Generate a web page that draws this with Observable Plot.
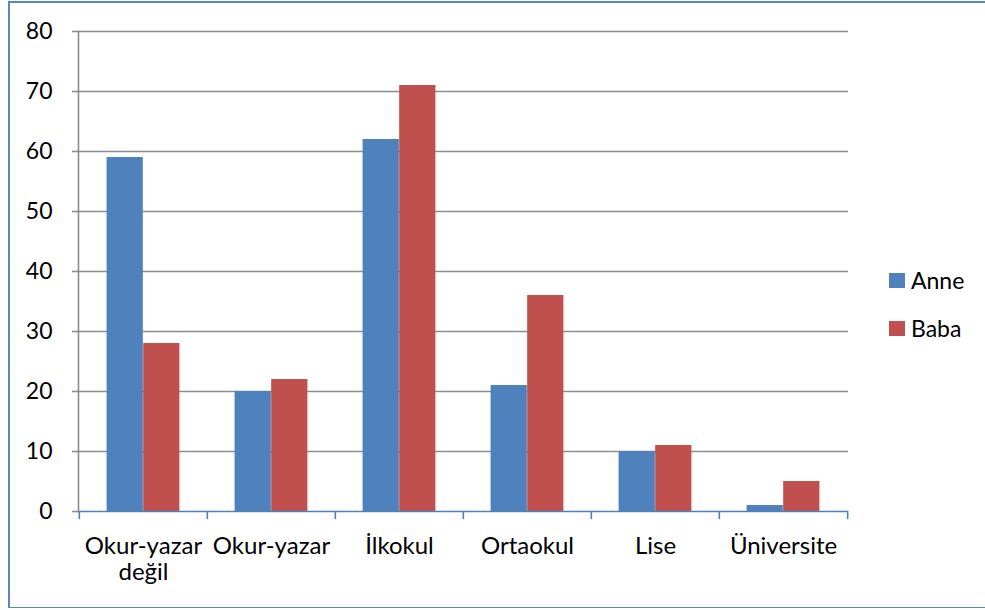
<!DOCTYPE html>
<html><head><meta charset="utf-8">
<script src="https://cdn.jsdelivr.net/npm/d3@7"></script>
<script src="https://cdn.jsdelivr.net/npm/@observablehq/plot@0.6"></script>
<style>
html,body{margin:0;padding:0;background:#fff;font-family:Lato,"Open Sans",sans-serif;overflow:hidden}
#wrap{position:relative;width:985px;height:610px;overflow:hidden;background:#fff}
.bl{position:absolute;background:#5b87c0;pointer-events:none}
#legend{position:absolute;left:889px;top:256px;font-size:23px;color:#000}
.item{display:flex;align-items:center;height:48px}
.sw{width:16px;height:15px;margin-right:6px}
</style>
</head><body>
<div id="wrap"><div id="chart"></div><div id="legend"></div>
<div class="bl" style="left:8px;top:1px;width:1.5px;height:607px"></div>
<div class="bl" style="left:8px;top:1px;width:977px;height:1.5px"></div>
<div class="bl" style="left:8px;top:606.5px;width:977px;height:1.5px"></div>
</div>
<script>
const categories = ["Okur-yazar değil","Okur-yazar","İlkokul","Ortaokul","Lise","Üniversite"];
const tickLabels = ["Okur-yazar\ndeğil","Okur-yazar","İlkokul","Ortaokul","Lise","Üniversite"];
const seriesNames = ["Anne","Baba"];
const seriesColors = ["#4F81BD","#C0504D"];
const anne = [59,20,62,21,10,1];
const baba = [28,22,71,36,11,5];
const yTicks = [0,10,20,30,40,50,60,70,80];

const data = [];
categories.forEach((c,i)=>{
  data.push({cat:c, series:"Anne", value:anne[i]});
  data.push({cat:c, series:"Baba", value:baba[i]});
});
const labelOf = new Map(categories.map((c,i)=>[c,tickLabels[i]]));

const W = 985, H = 610, mL = 78, mR = 137, mT = 31, mB = 99;
const step = (W - mL - mR) / categories.length;
const gap = step * 0.215;
const barW = (step - 2*gap) / 2;

const chart = Plot.plot({
  width: W, height: H,
  marginLeft: mL, marginRight: mR, marginTop: mT, marginBottom: mB,
  style: {fontFamily: "Lato, 'Open Sans', sans-serif", fontSize: "23px", color: "#000", background: "#fff"},
  x: {domain: categories, padding: 0, axis: null, label: null},
  y: {domain: [0,80], axis: null, label: null},
  color: {domain: seriesNames, range: seriesColors},
  marks: [
    Plot.ruleY(yTicks.filter(v=>v>0), {stroke: "#8c8c8c", strokeWidth: 1.6}),
    Plot.barY(data.filter(d=>d.series==="Anne"), {x:"cat", y:"value", fill:"series", insetLeft: gap, insetRight: gap+barW}),
    Plot.barY(data.filter(d=>d.series==="Baba"), {x:"cat", y:"value", fill:"series", insetLeft: gap+barW, insetRight: gap}),
    Plot.frame({anchor:"left", stroke:"#8c8c8c", strokeWidth:1.6}),
    Plot.axisY({ticks: yTicks, tickSize: 6, tickPadding: 20, stroke:"#8c8c8c", strokeWidth:1.6, fontSize: 23, label: null, tickFormat: d=>String(d)}),
    Plot.ruleY([0], {stroke: "#4F81BD", strokeWidth: 1.6}),
    Plot.ruleX(categories, {x: d=>d, y1: 0, y2: -1.35, dx: -step/2, stroke:"#4F81BD", strokeWidth:1.6}),
    Plot.ruleX(categories.slice(-1), {x: d=>d, y1: 0, y2: -1.35, dx: step/2, stroke:"#4F81BD", strokeWidth:1.6}),
    Plot.axisX({tickSize: 0, tickPadding: 25, fontSize: 24, lineHeight: 1.05, label: null, tickFormat: d=>labelOf.get(d)})
  ]
});
document.getElementById("chart").appendChild(chart);

const legend = document.getElementById("legend");
seriesNames.forEach((s,i)=>{
  const it = document.createElement("div"); it.className="item";
  const sw = document.createElement("div"); sw.className="sw"; sw.style.background = seriesColors[i];
  const t = document.createElement("span"); t.textContent = s;
  it.appendChild(sw); it.appendChild(t); legend.appendChild(it);
});
</script>
</body></html>
